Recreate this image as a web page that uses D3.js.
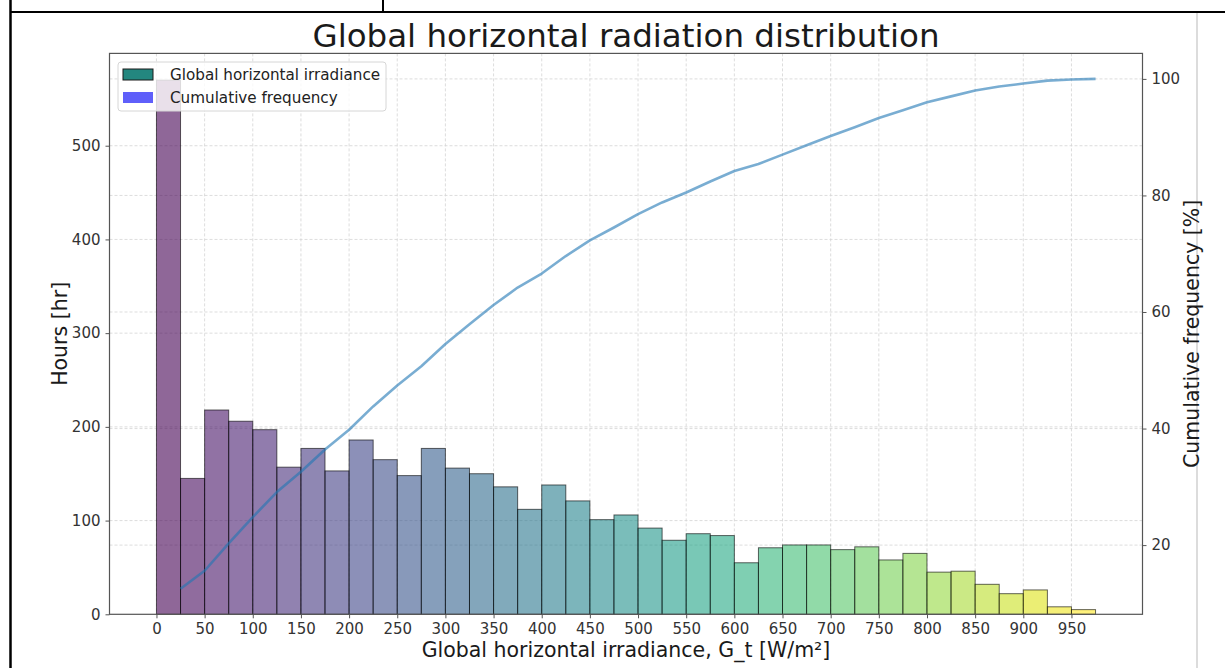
<!DOCTYPE html>
<html>
<head>
<meta charset="utf-8">
<script src="https://cdn.jsdelivr.net/npm/d3@7"></script>
<style>
  html, body { margin: 0; padding: 0; background: #fff; }
  svg { display: block; font-family: "DejaVu Sans", sans-serif; }
</style>
</head>
<body>
<svg id="chart" width="1225" height="668"></svg>
<script>
// Histogram bins (left edge of each 25 W/m² bin)
const binStarts = [0, 25, 50, 75, 100, 125, 150, 175, 200, 225, 250, 275, 300, 325, 350, 375,
  400, 425, 450, 475, 500, 525, 550, 575, 600, 625, 650, 675, 700, 725, 750, 775,
  800, 825, 850, 875, 900, 925, 950];
const binWidth = 25;

// Hours spent in each irradiance bin
const hours = [570, 145, 218, 206, 197, 157, 177, 153, 186, 165, 148, 177, 156, 150, 136, 112,
  138, 121, 101, 106, 92, 79, 86, 84, 55, 71, 74, 74, 69, 72, 58, 65,
  45, 46, 32, 22, 26, 8, 5];

// Cumulative frequency [%] at the right edge of each bin
const cumulative = [12.5, 15.6, 20.3, 24.8, 29.1, 32.6, 36.4, 39.8, 43.8, 47.4, 50.7, 54.5,
  57.9, 61.2, 64.2, 66.6, 69.6, 72.3, 74.5, 76.8, 78.8, 80.5, 82.4, 84.2, 85.4, 87.0,
  88.6, 90.2, 91.7, 93.3, 94.6, 96.0, 97.0, 98.0, 98.7, 99.2, 99.7, 99.9, 100];

const xTicks = [0, 50, 100, 150, 200, 250, 300, 350, 400, 450, 500, 550, 600, 650, 700, 750, 800, 850, 900, 950];
const yLeftTicks = [0, 100, 200, 300, 400, 500];
const yRightTicks = [20, 40, 60, 80, 100];

const titleText = "Global horizontal radiation distribution";
const xLabel = "Global horizontal irradiance, G_t [W/m²]";
const yLeftLabel = "Hours [hr]";
const yRightLabel = "Cumulative frequency [%]";
const legendItems = [
  { label: "Global horizontal irradiance", fill: "#23877f", stroke: "#1a1a1a" },
  { label: "Cumulative frequency", fill: "#5f5ffa", stroke: "none" }
];

const svg = d3.select("#chart");
const plot = { left: 109.5, right: 1142.5, top: 53.4, bottom: 614.3 };

// Page frame around the figure cell
svg.append("line").attr("x1", 10.5).attr("x2", 10.5).attr("y1", 0).attr("y2", 668)
  .attr("stroke", "#000").attr("stroke-width", 2.5);
svg.append("line").attr("x1", 10).attr("x2", 1225).attr("y1", 12).attr("y2", 12)
  .attr("stroke", "#000").attr("stroke-width", 2);
svg.append("line").attr("x1", 383).attr("x2", 383).attr("y1", 0).attr("y2", 12)
  .attr("stroke", "#000").attr("stroke-width", 2);
svg.append("line").attr("x1", 1197).attr("x2", 1197).attr("y1", 13).attr("y2", 668)
  .attr("stroke", "#dcdcdc").attr("stroke-width", 2);

// Scales with 5% margins on the data extents
const xMin = binStarts[0], xMax = binStarts[binStarts.length - 1] + binWidth;
const xPad = (xMax - xMin) * 0.05;
const x = d3.scaleLinear().domain([xMin - xPad, xMax + xPad]).range([plot.left, plot.right]);
const yL = d3.scaleLinear().domain([0, d3.max(hours) * 1.05]).range([plot.bottom, plot.top]);
const cMin = d3.min(cumulative), cMax = d3.max(cumulative);
const cPad = (cMax - cMin) * 0.05;
const yR = d3.scaleLinear().domain([cMin - cPad, cMax + cPad]).range([plot.bottom, plot.top]);

// Grid lines
const grid = svg.append("g").attr("stroke", "#d4d4d4").attr("stroke-width", 0.8)
  .attr("stroke-dasharray", "3,2");
grid.selectAll(".gx").data(xTicks).join("line")
  .attr("x1", d => x(d)).attr("x2", d => x(d)).attr("y1", plot.top).attr("y2", plot.bottom);
grid.selectAll(".gl").data(yLeftTicks.slice(1)).join("line")
  .attr("x1", plot.left).attr("x2", plot.right).attr("y1", d => yL(d)).attr("y2", d => yL(d));
grid.selectAll(".gr").data(yRightTicks).join("line")
  .attr("x1", plot.left).attr("x2", plot.right).attr("y1", d => yR(d)).attr("y2", d => yR(d));

// Histogram bars coloured along viridis
const n = hours.length;
svg.append("g").selectAll("rect").data(hours).join("rect")
  .attr("x", (d, i) => x(binStarts[i]))
  .attr("width", (d, i) => x(binStarts[i] + binWidth) - x(binStarts[i]))
  .attr("y", d => yL(d))
  .attr("height", d => yL(0) - yL(d))
  .attr("fill", (d, i) => d3.interpolateViridis(i / (n - 1)))
  .attr("fill-opacity", 0.6)
  .attr("stroke", "#000")
  .attr("stroke-opacity", 0.6)
  .attr("stroke-width", 1);

// Cumulative frequency line
const line = d3.line()
  .x((d, i) => x(binStarts[i] + binWidth))
  .y(d => yR(d));
svg.append("path").datum(cumulative)
  .attr("d", line)
  .attr("fill", "none")
  .attr("stroke", "#1f77b4")
  .attr("stroke-opacity", 0.6)
  .attr("stroke-width", 2.6)
  .attr("stroke-linejoin", "round");

// Axes
function styleAxis(g) {
  g.selectAll(".domain").remove();
  g.selectAll(".tick line").attr("stroke", "#555");
  g.selectAll(".tick text").attr("fill", "#333").attr("font-size", 15)
    .attr("font-family", "DejaVu Sans, sans-serif");
}
svg.append("g").attr("transform", `translate(0,${plot.bottom})`)
  .call(d3.axisBottom(x).tickValues(xTicks).tickFormat(d3.format("d")).tickSize(4).tickPadding(5))
  .call(styleAxis);
svg.append("g").attr("transform", `translate(${plot.left},0)`)
  .call(d3.axisLeft(yL).tickValues(yLeftTicks).tickFormat(d3.format("d")).tickSize(4).tickPadding(5))
  .call(styleAxis);
svg.append("g").attr("transform", `translate(${plot.right},0)`)
  .call(d3.axisRight(yR).tickValues(yRightTicks).tickFormat(d3.format("d")).tickSize(4).tickPadding(5))
  .call(styleAxis);

// Plot frame
svg.append("rect")
  .attr("x", plot.left).attr("y", plot.top)
  .attr("width", plot.right - plot.left).attr("height", plot.bottom - plot.top)
  .attr("fill", "none").attr("stroke", "#555").attr("stroke-width", 1.2);

// Legend
const lg = svg.append("g").attr("transform", "translate(118,62)");
lg.append("rect").attr("width", 268).attr("height", 49).attr("rx", 3)
  .attr("fill", "#fff").attr("fill-opacity", 0.8)
  .attr("stroke", "#d6d6d6").attr("stroke-width", 1);
legendItems.forEach((item, i) => {
  const row = lg.append("g").attr("transform", `translate(5,${7 + i * 23})`);
  row.append("rect").attr("width", 30).attr("height", 11)
    .attr("fill", item.fill).attr("stroke", item.stroke).attr("stroke-width", 1);
  row.append("text").attr("x", 47).attr("y", 11)
    .attr("font-size", 15.2).attr("fill", "#222").text(item.label);
});

// Titles
svg.append("text").attr("x", (plot.left + plot.right) / 2).attr("y", 47)
  .attr("text-anchor", "middle").attr("font-size", 32.5).attr("fill", "#1a1a1a").text(titleText);
svg.append("text").attr("x", (plot.left + plot.right) / 2).attr("y", 657)
  .attr("text-anchor", "middle").attr("font-size", 20.5).attr("fill", "#1a1a1a").text(xLabel);
svg.append("text").attr("transform", `translate(67,${(plot.top + plot.bottom) / 2}) rotate(-90)`)
  .attr("text-anchor", "middle").attr("font-size", 20.5).attr("fill", "#1a1a1a").text(yLeftLabel);
svg.append("text").attr("transform", `translate(1199,${(plot.top + plot.bottom) / 2}) rotate(-90)`)
  .attr("text-anchor", "middle").attr("font-size", 20.5).attr("fill", "#1a1a1a").text(yRightLabel);
</script>
</body>
</html>
